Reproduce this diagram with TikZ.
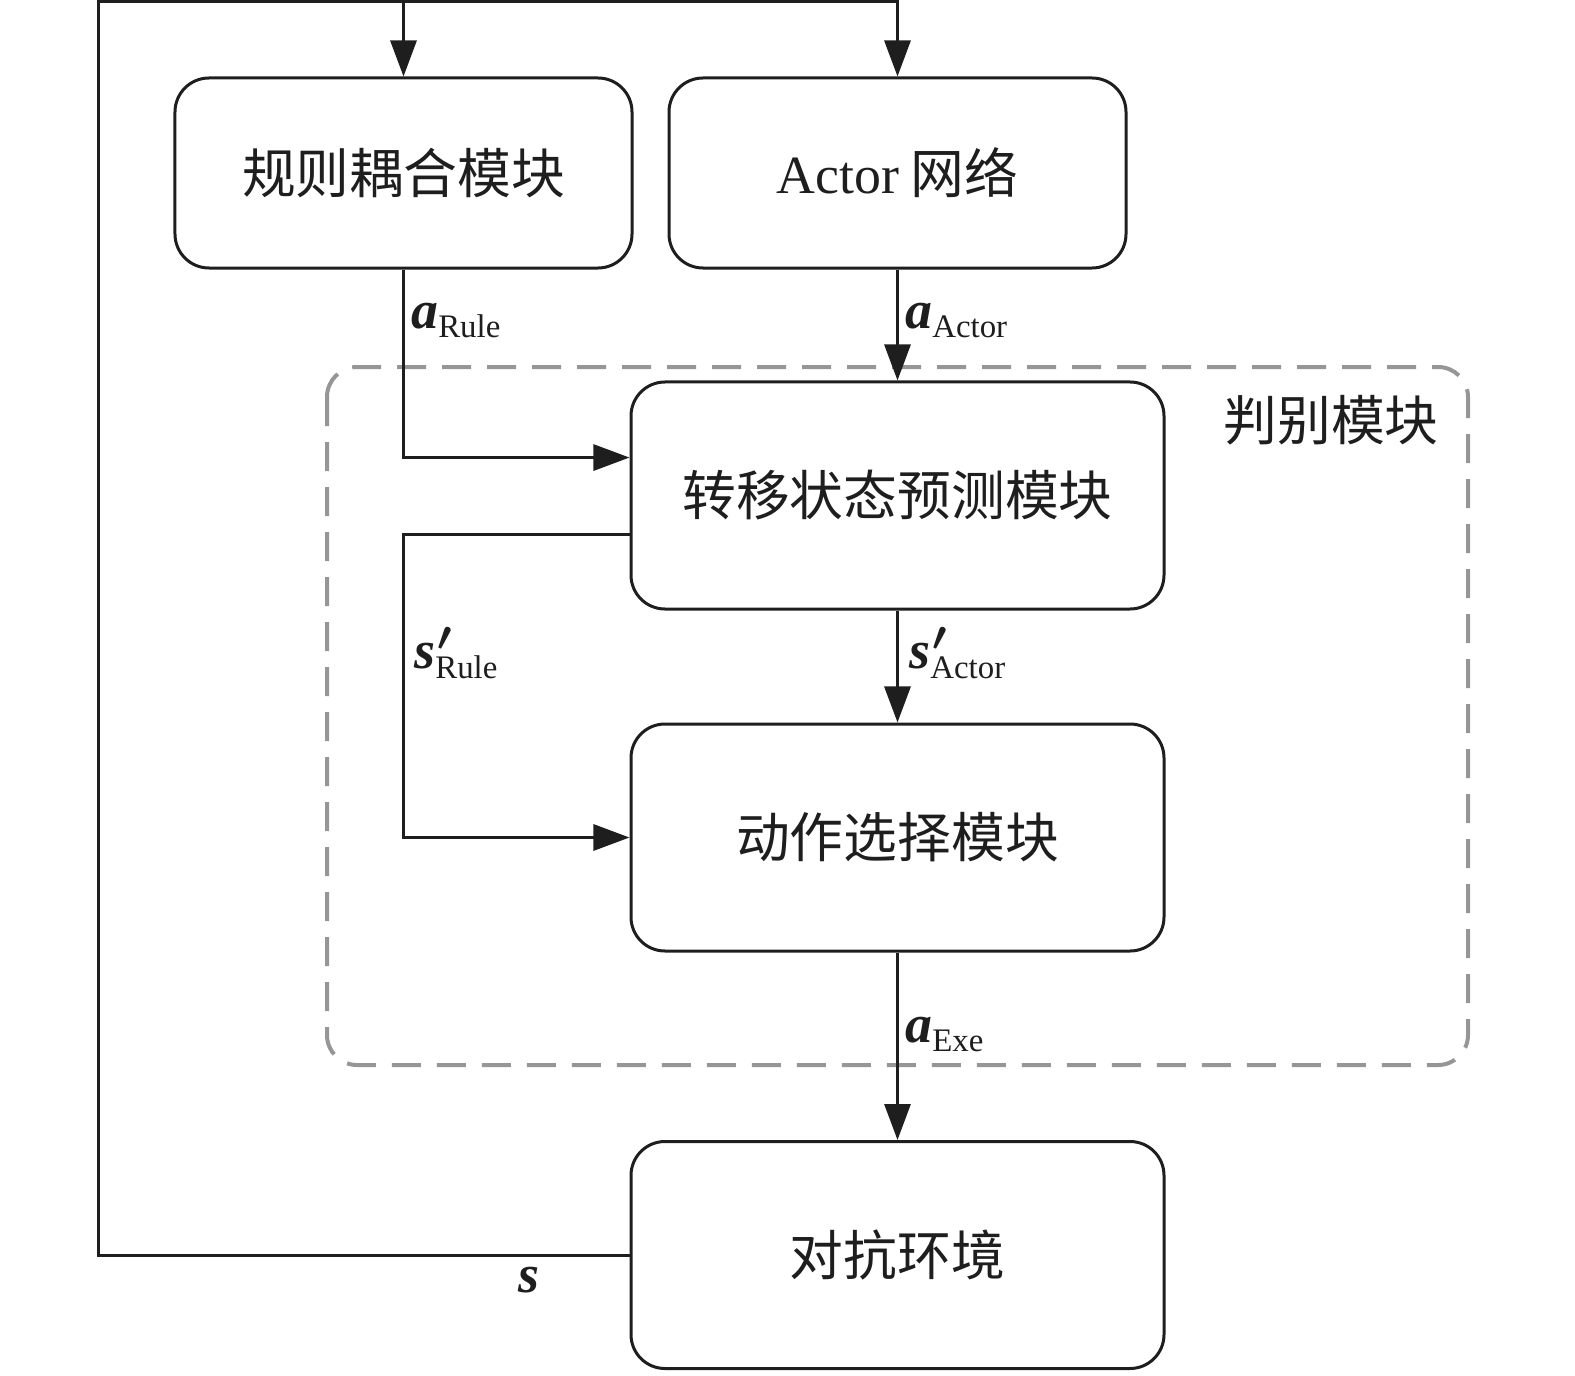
\documentclass[tikz,border=0pt]{standalone}
\usepackage{fontspec}
\setmainfont{Liberation Serif}
\newfontfamily\cjk{Noto Sans CJK SC}
\usetikzlibrary{arrows.meta,calc}
\definecolor{dgray}{RGB}{150,150,150}
\definecolor{ink}{RGB}{30,30,30}
\tikzset{
 blk/.style={draw=ink, line width=1.5bp, rounded corners=17bp, align=center,
   font=\cjk\fontsize{27}{30}\selectfont, inner sep=0pt, text=ink},
 smallblk/.style={blk, minimum width=228.5bp, minimum height=95bp},
 bigblk/.style={blk, minimum width=266.5bp, minimum height=113.5bp},
 conn/.style={line width=1.5bp, draw=ink},
 arr/.style={conn, -{Triangle[length=18bp,width=13bp]}},
 lbl/.style={anchor=base west, inner sep=0pt, text=ink},
 dashbox/.style={draw=dgray, line width=2bp, dash pattern=on 14.5bp off 8bp, rounded corners=15bp}
}
\newcommand\symsub[2]{{\fontsize{27}{30}\selectfont\bfseries\itshape #1}\raisebox{-5pt}{\fontsize{16.5}{18}\selectfont #2}}
\newcommand\symsubp[2]{{\fontsize{27}{30}\selectfont\bfseries\itshape #1}\rlap{\hspace{1pt}\fontsize{28}{30}\selectfont\boldmath$^{\prime}$}\raisebox{-5.5pt}{\fontsize{16.5}{18}\selectfont #2}}
\begin{document}
\begin{tikzpicture}[x=0.5bp,y=-0.5bp]
\useasboundingbox (0,0) rectangle (1575,1376);
% dashed discriminator region
\draw[dashbox] (327,367) rectangle (1468,1065);
\node[anchor=center, inner sep=0pt, font=\cjk\fontsize{27}{30}\selectfont, text=ink] (judge) at (1331,420) {判别模块};
% blocks
\node[smallblk] (rule) at (403.5,173) {规则耦合模块};
\node[smallblk] (actor) at (897.5,173) {{\rmfamily Actor}\ 网络};
\node[bigblk] (pred) at (897.5,495.5) {转移状态预测模块};
\node[bigblk] (sel) at (897.5,837.5) {动作选择模块};
\node[bigblk] (env) at (897.5,1255) {对抗环境};
% feedback loop
\coordinate (fbc) at (98,2);
\draw[arr] (env.west) -| (fbc) -| (actor.north);
\draw[arr] (rule.north |- fbc) -- (rule.north);
% rule -> pred
\coordinate (pIn) at ($(pred.north west)!0.335!(pred.south west)$);
\coordinate (pOut) at ($(pred.north west)!0.67!(pred.south west)$);
\draw[arr] (rule.south) |- (pIn);
\draw[arr] (actor.south) -- (pred.north);
\draw[arr] (pOut) -- (pOut -| rule.south) |- (sel.west);
\draw[arr] (pred.south) -- (sel.north);
\draw[arr] (sel.south) -- (env.north);
% labels
\node[lbl] (laR) at (411,328) {\symsub{a}{Rule}};
\node[lbl] (laA) at (905,328) {\symsub{a}{Actor}};
\node[lbl] (lsR) at (414,668) {\symsubp{s}{Rule}};
\node[lbl] (lsA) at (909,668) {\symsubp{s}{Actor}};
\node[lbl] (laE) at (905,1042) {\symsub{a}{Exe}};
\node[lbl] (ls) at (518,1292) {\fontsize{27}{30}\selectfont\bfseries\itshape s};
\end{tikzpicture}
\end{document}
